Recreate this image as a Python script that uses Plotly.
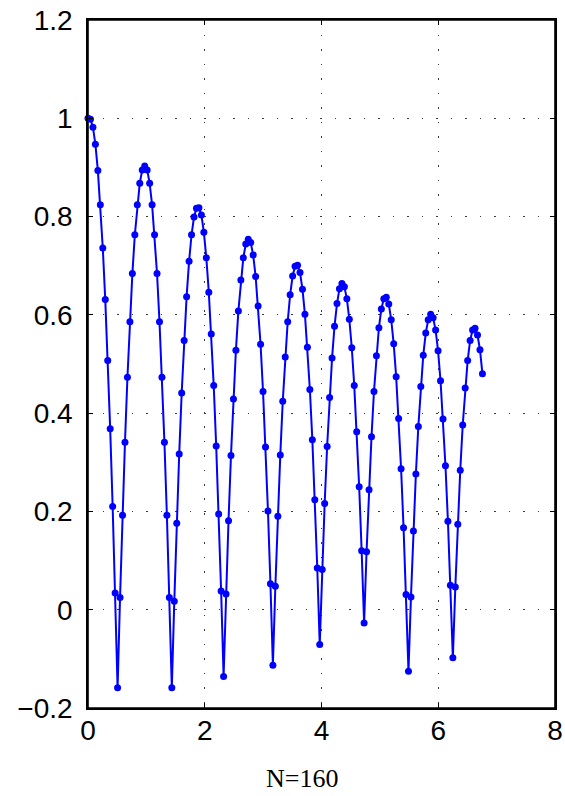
import numpy as np
import plotly.graph_objects as go

# sampling grid: 161 samples, step
N_SAMPLES = 161
X_END = 6.757
x_vals = np.linspace(0.0, X_END, N_SAMPLES)

y_vals = [
    1.000, 0.998, 0.982, 0.947, 0.894, 0.824, 0.736, 0.631, 0.507, 0.368,
    0.210, 0.034, -0.159, 0.025, 0.192, 0.341, 0.473, 0.586, 0.684, 0.763,
    0.824, 0.868, 0.895, 0.903, 0.895, 0.868, 0.824, 0.763, 0.684, 0.586,
    0.473, 0.341, 0.192, 0.025, -0.159, 0.017, 0.176, 0.317, 0.441, 0.548,
    0.637, 0.709, 0.763, 0.799, 0.817, 0.818, 0.803, 0.768, 0.716, 0.646,
    0.561, 0.456, 0.333, 0.195, 0.038, -0.136, 0.032, 0.181, 0.314, 0.429,
    0.528, 0.608, 0.671, 0.716, 0.744, 0.754, 0.747, 0.722, 0.678, 0.618,
    0.540, 0.444, 0.331, 0.201, 0.053, -0.113, 0.048, 0.190, 0.315, 0.424,
    0.514, 0.586, 0.641, 0.679, 0.699, 0.701, 0.686, 0.652, 0.601, 0.534,
    0.448, 0.346, 0.224, 0.085, -0.071, 0.082, 0.216, 0.332, 0.432, 0.512,
    0.577, 0.623, 0.653, 0.664, 0.657, 0.633, 0.591, 0.533, 0.456, 0.362,
    0.250, 0.120, -0.027, 0.118, 0.244, 0.352, 0.444, 0.517, 0.574, 0.612,
    0.633, 0.636, 0.622, 0.590, 0.541, 0.474, 0.389, 0.287, 0.167, 0.031,
    -0.125, 0.026, 0.160, 0.276, 0.373, 0.454, 0.518, 0.563, 0.590, 0.601,
    0.594, 0.569, 0.527, 0.466, 0.388, 0.293, 0.180, 0.050, -0.098, 0.046,
    0.174, 0.284, 0.376, 0.451, 0.507, 0.548, 0.569, 0.573, 0.559, 0.529,
    0.480,
]

x_ticks = [0, 2, 4, 6, 8]
x_tick_labels = ["0", "2", "4", "6", "8"]
y_ticks = [-0.2, 0, 0.2, 0.4, 0.6, 0.8, 1.0, 1.2]
y_tick_labels = ["\u22120.2", "0", "0.2", "0.4", "0.6", "0.8", "1", "1.2"]
x_label = "N=160"

fig = go.Figure()
fig.add_trace(go.Scatter(
    x=x_vals, y=y_vals, mode="lines+markers",
    line=dict(color="#0000FF", width=2),
    marker=dict(color="#0000FF", size=7),
    cliponaxis=False, showlegend=False,
))

grid_dash = "1.5px,13px"
axis_common = dict(
    showline=True, linecolor="black", linewidth=1.6, mirror="ticks",
    ticks="inside", ticklen=5, tickwidth=1, tickcolor="black",
    showgrid=True, gridcolor="#3a3a3a", gridwidth=1, griddash=grid_dash,
    zeroline=False, automargin=False,
    tickfont=dict(family="Liberation Sans, Arial, sans-serif", size=28, color="black"),
)

fig.update_xaxes(range=[0, 8], tickvals=x_ticks, ticktext=x_tick_labels,
                 ticklabelstandoff=-3, **axis_common)
fig.update_yaxes(range=[-0.2, 1.2], tickvals=y_ticks, ticktext=y_tick_labels,
                 ticklabelstandoff=8, **axis_common)

# axes frame
fig.add_shape(type="rect", xref="paper", yref="paper", x0=0, x1=1, y0=0, y1=1,
              line=dict(color="black", width=1.6), layer="below")

fig.add_annotation(
    text=x_label, xref="paper", yref="paper", x=0.458, y=-0.102,
    xanchor="center", yanchor="middle", showarrow=False,
    font=dict(family="Liberation Serif, Times New Roman, serif", size=26, color="black"),
)

fig.update_layout(
    width=565, height=796,
    margin=dict(l=88, r=10, t=20, b=88, autoexpand=False),
    paper_bgcolor="white", plot_bgcolor="white",
)

fig.write_html("out.html", config={"displayModeBar": False},
               post_script="document.body.style.margin='0';document.body.style.padding='0';")
